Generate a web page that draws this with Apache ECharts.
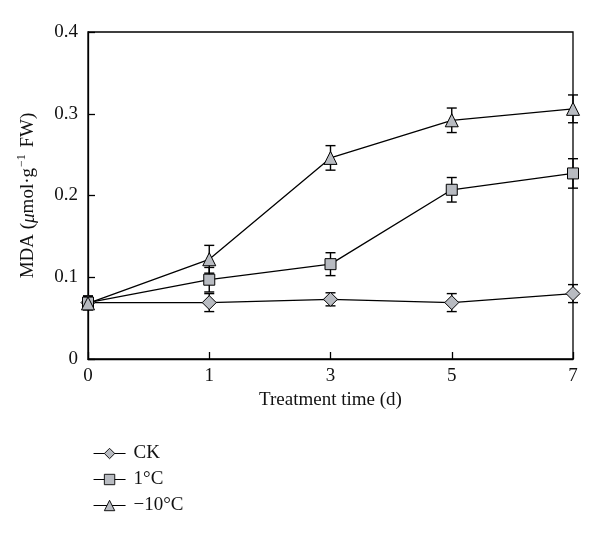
<!DOCTYPE html>
<html>
<head>
<meta charset="utf-8">
<script src="https://cdn.jsdelivr.net/npm/echarts@6/dist/echarts.min.js"></script>
<style>html,body{margin:0;padding:0;background:#fff}#c{width:600px;height:536px}</style>
</head>
<body>
<div id="c"></div>
<script>
var days = ['0', '1', '3', '5', '7'];
var yTicks = [0, 0.1, 0.2, 0.3, 0.4];
var seriesNames = ['CK', '1°C', '\u221210°C'];
var ckMean = [0.069, 0.069, 0.073, 0.069, 0.080];
var ckErr = [0.008, 0.011, 0.008, 0.011, 0.011];
var c1Mean = [0.069, 0.097, 0.116, 0.207, 0.227];
var c1Err = [0.008, 0.015, 0.014, 0.015, 0.018];
var c10Mean = [0.068, 0.122, 0.246, 0.292, 0.306];
var c10Err = [0.008, 0.017, 0.015, 0.015, 0.017];

var FONT = '"Liberation Serif", "DejaVu Serif", serif';
var FS = 19;
var markerFill = '#b8bbc1';

function errData(mean, err) {
  return mean.map(function (m, i) { return [i, m - err[i], m + err[i]]; });
}
function errSeries(mean, err) {
  return {
    type: 'custom',
    z: 1,
    silent: true,
    renderItem: function (params, api) {
      var x = api.value(0);
      var lo = api.coord([x, api.value(1)]);
      var hi = api.coord([x, api.value(2)]);
      var hw = 5;
      var st = { stroke: '#000', lineWidth: 1.4 };
      return {
        type: 'group',
        children: [
          { type: 'line', shape: { x1: lo[0], y1: lo[1], x2: hi[0], y2: hi[1] }, style: st },
          { type: 'line', shape: { x1: lo[0] - hw, y1: lo[1], x2: lo[0] + hw, y2: lo[1] }, style: st },
          { type: 'line', shape: { x1: hi[0] - hw, y1: hi[1], x2: hi[0] + hw, y2: hi[1] }, style: st }
        ]
      };
    },
    encode: { x: 0, y: [1, 2] },
    data: errData(mean, err)
  };
}
function lineSeries(name, mean, symbol, size) {
  return {
    name: name,
    type: 'line',
    z: 3,
    data: mean,
    symbol: symbol,
    symbolSize: size,
    showAllSymbol: true,
    lineStyle: { color: '#000', width: 1.3 },
    itemStyle: { color: markerFill, borderColor: '#000', borderWidth: 1 },
    emphasis: { disabled: true },
    animation: false
  };
}

var chart = echarts.init(document.getElementById('c'), null, { renderer: 'canvas' });
chart.setOption({
  animation: false,
  backgroundColor: '#fff',
  grid: { left: 88, right: 27, top: 32, bottom: 177, show: true, borderColor: '#000', borderWidth: 1.3 },
  legend: {
    orient: 'vertical',
    left: 88,
    top: 439,
    itemWidth: 32,
    itemHeight: 13,
    itemGap: 7,
    data: seriesNames,
    itemStyle: { borderWidth: 0.9 },
    lineStyle: { width: 1.1 },
    textStyle: { fontFamily: FONT, fontSize: FS, color: '#111', lineHeight: 18, padding: [0, 0, 0, 3] },
    selectedMode: false
  },
  xAxis: {
    type: 'category',
    data: days,
    boundaryGap: false,
    axisLine: { lineStyle: { color: '#000', width: 1.3 } },
    axisTick: { inside: true, length: 7, lineStyle: { color: '#000', width: 1.3 } },
    axisLabel: { fontFamily: FONT, fontSize: FS, color: '#111', margin: 8 },
    name: 'Treatment time (d)',
    nameLocation: 'middle',
    nameGap: 30,
    nameTextStyle: { fontFamily: FONT, fontSize: FS, color: '#111' }
  },
  yAxis: {
    type: 'value',
    min: yTicks[0],
    max: yTicks[yTicks.length - 1],
    interval: 0.1,
    splitLine: { show: false },
    axisLine: { show: true, lineStyle: { color: '#000', width: 1.3 } },
    axisTick: { show: true, inside: true, length: 7, lineStyle: { color: '#000', width: 1.3 } },
    axisLabel: {
      fontFamily: FONT, fontSize: FS, color: '#111', margin: 10,
      formatter: function (v) { return Math.abs(v) < 1e-9 ? '0' : v.toFixed(1); }
    },
    name: '{a|MDA (}{i|\u03bc}{a|mol\u00b7g}{s|\u22121}{a| FW)}',
    nameLocation: 'middle',
    nameGap: 50,
    nameTextStyle: {
      fontFamily: FONT, fontSize: FS, color: '#111',
      rich: {
        a: { fontFamily: FONT, fontSize: FS, color: '#111', verticalAlign: 'bottom', lineHeight: 22 },
        i: { fontFamily: FONT, fontSize: FS, color: '#111', fontStyle: 'italic', verticalAlign: 'bottom', lineHeight: 22 },
        s: { fontFamily: FONT, fontSize: 12, color: '#111', verticalAlign: 'top', lineHeight: 22, padding: [0, 2, 0, 1] }
      }
    }
  },
  series: [
    errSeries(ckMean, ckErr),
    errSeries(c1Mean, c1Err),
    errSeries(c10Mean, c10Err),
    lineSeries(seriesNames[0], ckMean, 'diamond', 14),
    lineSeries(seriesNames[1], c1Mean, 'rect', 11),
    lineSeries(seriesNames[2], c10Mean, 'triangle', 13)
  ]
});
</script>
</body>
</html>
